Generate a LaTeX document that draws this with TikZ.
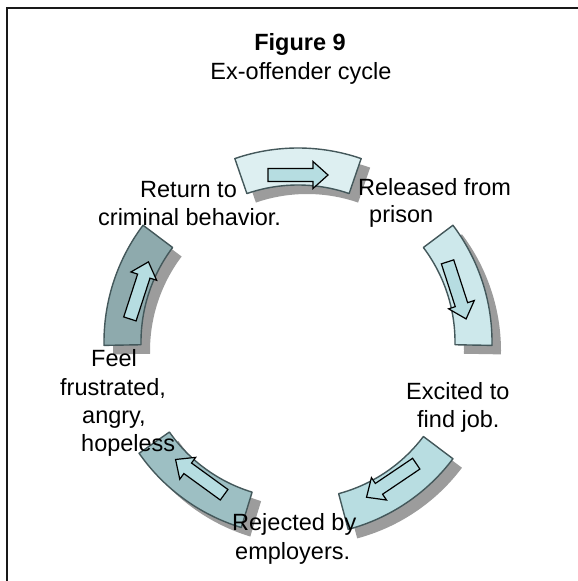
\documentclass[tikz,border=0pt]{standalone}
\usepackage{fontspec}
\setmainfont{Liberation Sans}
\definecolor{segA}{HTML}{DDEFF1}
\definecolor{segB}{HTML}{CDE8EB}
\definecolor{segC}{HTML}{B8DDE1}
\definecolor{segD}{HTML}{9DBFC3}
\definecolor{segE}{HTML}{8EAAAD}
\definecolor{segline}{HTML}{44585B}
\definecolor{arrfill}{HTML}{B6DDE1}
\definecolor{shade}{HTML}{9C9C9C}
\tikzset{
  segbox/.style={draw=segline, line width=1.4pt, line join=round},
  shadowbox/.style={fill=shade, draw=none},
  arrowbox/.style={draw=black, fill=arrfill, line width=1.2pt, line join=miter},
  lbl/.style={font=\fontsize{23.5}{28}\selectfont, inner sep=0pt, anchor=base west},
  ttl/.style={font=\fontsize{23.5}{28}\selectfont, inner sep=0pt, anchor=base},
  frameline/.style={draw=black!90, line width=2.5pt}
}
\begin{document}
\begin{tikzpicture}[x=1pt,y=1pt]
\useasboundingbox (0,0) rectangle (578,-581);
\clip (0,0) rectangle (578,-581);
\fill[white] (0,0) rectangle (578,-581);
\draw[frameline] (7,-600) -- (7,-8) -- (600,-8);
\coordinate (ctr) at (298,-342);
% shadows
\foreach \a in {90,18,-56,-126,162}{
  \path[shadowbox, shift={(9,-9)}] ([shift={(ctr)}]\a+19:194) arc[start angle=\a+19, end angle=\a-19, radius=194]
    -- ([shift={(ctr)}]\a-19:157) arc[start angle=\a-19, end angle=\a+19, radius=157] -- cycle;
}
% segments and arrows
\foreach \a/\c in {90/segA,18/segB,-56/segC,-126/segD,162/segE}{
  \path[segbox, fill=\c] ([shift={(ctr)}]\a+19:194) arc[start angle=\a+19, end angle=\a-19, radius=194]
    -- ([shift={(ctr)}]\a-19:157) arc[start angle=\a-19, end angle=\a+19, radius=157] -- cycle;
  \draw[arrowbox, shift={(ctr)}, rotate=\a-90]
    (-30,160.5) -- (15,160.5) -- (15,153.5) -- (30,167) -- (15,180.5) -- (15,173.5) -- (-30,173.5) -- cycle;
}
% titles
\node[ttl, font=\fontsize{23.5}{28}\selectfont\bfseries] (fig) at (300,-50) {Figure 9};
\node[ttl] (sub) at (301,-79) {Ex-offender cycle};
% labels
\node[lbl] (ret1) at (140,-197) {Return to};
\node[lbl] (ret2) at (98,-225) {criminal behavior.};
\node[lbl] (rel1) at (358,-195) {Released from};
\node[lbl] (rel2) at (369,-222) {prison};
\node[lbl] (exc1) at (406,-399) {Excited to};
\node[lbl] (exc2) at (417,-427) {find job.};
\node[lbl] (rej1) at (232,-530) {Rejected by};
\node[lbl] (rej2) at (235,-559) {employers.};
\node[lbl] (fee1) at (91,-366) {Feel};
\node[lbl] (fee2) at (60,-395) {frustrated,};
\node[lbl] (fee3) at (82,-423) {angry,};
\node[lbl] (fee4) at (81,-451) {hopeless};
\end{tikzpicture}
\end{document}
